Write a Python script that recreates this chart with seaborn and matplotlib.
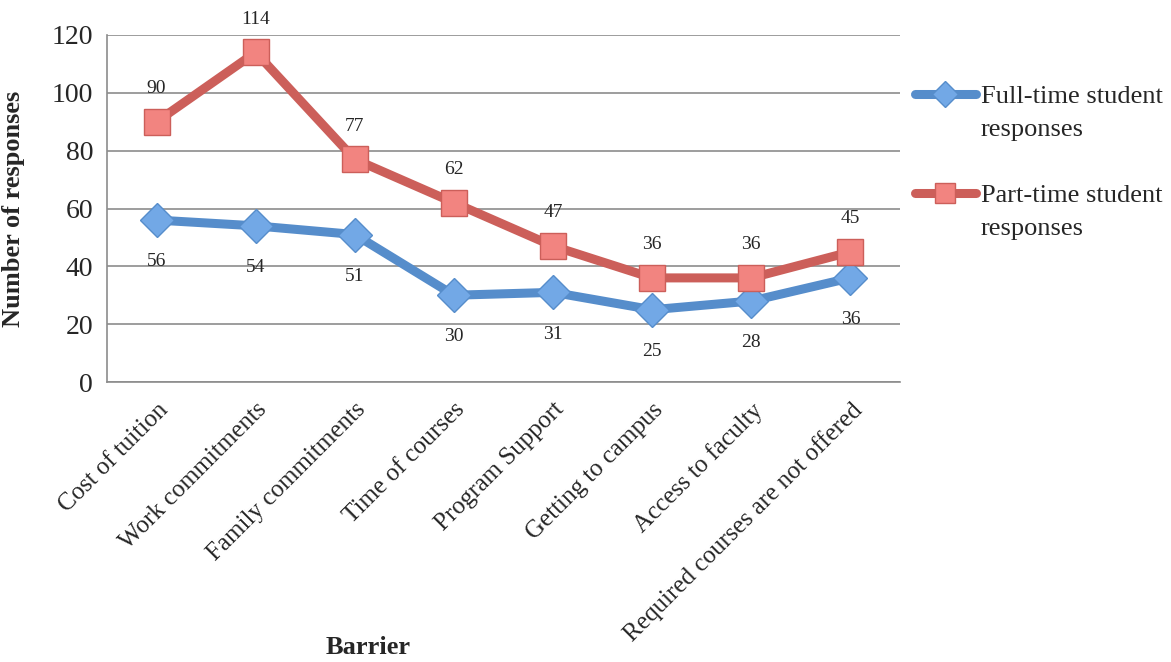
import matplotlib
matplotlib.use("Agg")
import matplotlib.pyplot as plt
import seaborn as sns
import numpy as np
from matplotlib.ticker import FixedLocator
from matplotlib.lines import Line2D

# data
barriers = ["Cost of tuition", "Work commitments", "Family commitments", "Time of courses",
            "Program Support", "Getting to campus", "Access to faculty",
            "Required courses are not offered"]
full_time = [56, 54, 51, 30, 31, 25, 28, 36]
part_time = [90, 114, 77, 62, 47, 36, 36, 45]

sns.set_style("white")
plt.rcParams["font.family"] = ["Liberation Serif", "DejaVu Serif"]

grid_col = "#8c8c8c"
blue, blue_fill = "#568dcb", "#72a8e6"
red, red_fill = "#cc5f5a", "#f28480"

fig, ax = plt.subplots(figsize=(11.71, 6.62), dpi=100)
fig.subplots_adjust(left=107/1171, right=900/1171, top=1-35/662, bottom=1-382/662)

pos = np.arange(len(barriers))

sns.lineplot(x=pos, y=full_time, ax=ax, color=blue, linewidth=6.5, marker="D",
             markersize=17, markerfacecolor=blue_fill, markeredgecolor=blue,
             markeredgewidth=1, zorder=3)
sns.lineplot(x=pos, y=part_time, ax=ax, color=red, linewidth=6.5, marker="s",
             markersize=19, markerfacecolor=red_fill, markeredgecolor=red,
             markeredgewidth=1, zorder=4)

for x, v in zip(pos, full_time):
    ax.annotate(str(v), (x, v), xytext=(0, -30), textcoords="offset points",
                ha="center", va="center", fontsize=14)
for x, v in zip(pos, part_time):
    ax.annotate(str(v), (x, v), xytext=(0, 24), textcoords="offset points",
                ha="center", va="center", fontsize=14)

ax.set_xlim(-0.5, len(barriers) - 0.5)
ax.set_ylim(0, 120)
ax.set_yticks(range(0, 121, 20))
ax.yaxis.grid(True, color=grid_col, linewidth=1.2)
ax.set_axisbelow(True)

ax.set_xticks(pos)
ax.set_xticklabels(barriers, rotation=45, ha="right", rotation_mode="anchor", fontsize=18)
ax.xaxis.set_minor_locator(FixedLocator(np.arange(-0.5, len(barriers), 1)))
ax.tick_params(axis="x", which="major", length=0, pad=12)
ax.tick_params(axis="x", which="minor", length=6, width=1.2, color=grid_col, direction="out")
ax.tick_params(axis="y", length=6, width=1.2, color=grid_col, direction="out", labelsize=20, pad=4)

for s in ["top", "right"]:
    ax.spines[s].set_visible(False)
for s in ["left", "bottom"]:
    ax.spines[s].set_color(grid_col)
    ax.spines[s].set_linewidth(1.2)

ax.set_ylabel("Number of responses", fontsize=19, fontweight="bold")
ax.yaxis.set_label_coords((25 - 107) / 793, 0.5)
ax.set_xlabel("Barrier", fontsize=19, fontweight="bold", va="center")
ax.xaxis.set_label_coords((368 - 107) / 793, (382 - 648) / 347)

# legend: handle sits beside the first line of each two-line label
h_full = Line2D([], [], color=blue, linewidth=6.5, marker="D", markersize=13,
                markerfacecolor=blue_fill, markeredgecolor=blue)
h_part = Line2D([], [], color=red, linewidth=6.5, marker="s", markersize=15,
                markerfacecolor=red_fill, markeredgecolor=red)
blank = Line2D([], [], alpha=0)
ax.legend([h_full, blank, blank, h_part, blank],
          ["Full-time student", "responses", "", "Part-time student", "responses"],
          loc="upper left", bbox_to_anchor=((915 - 107) / 793, (382 - 85) / 347),
          borderaxespad=0, borderpad=0, frameon=False, fontsize=19,
          handlelength=2.3, handletextpad=0.2, labelspacing=0.36)

fig.savefig("out.png", dpi=100)
